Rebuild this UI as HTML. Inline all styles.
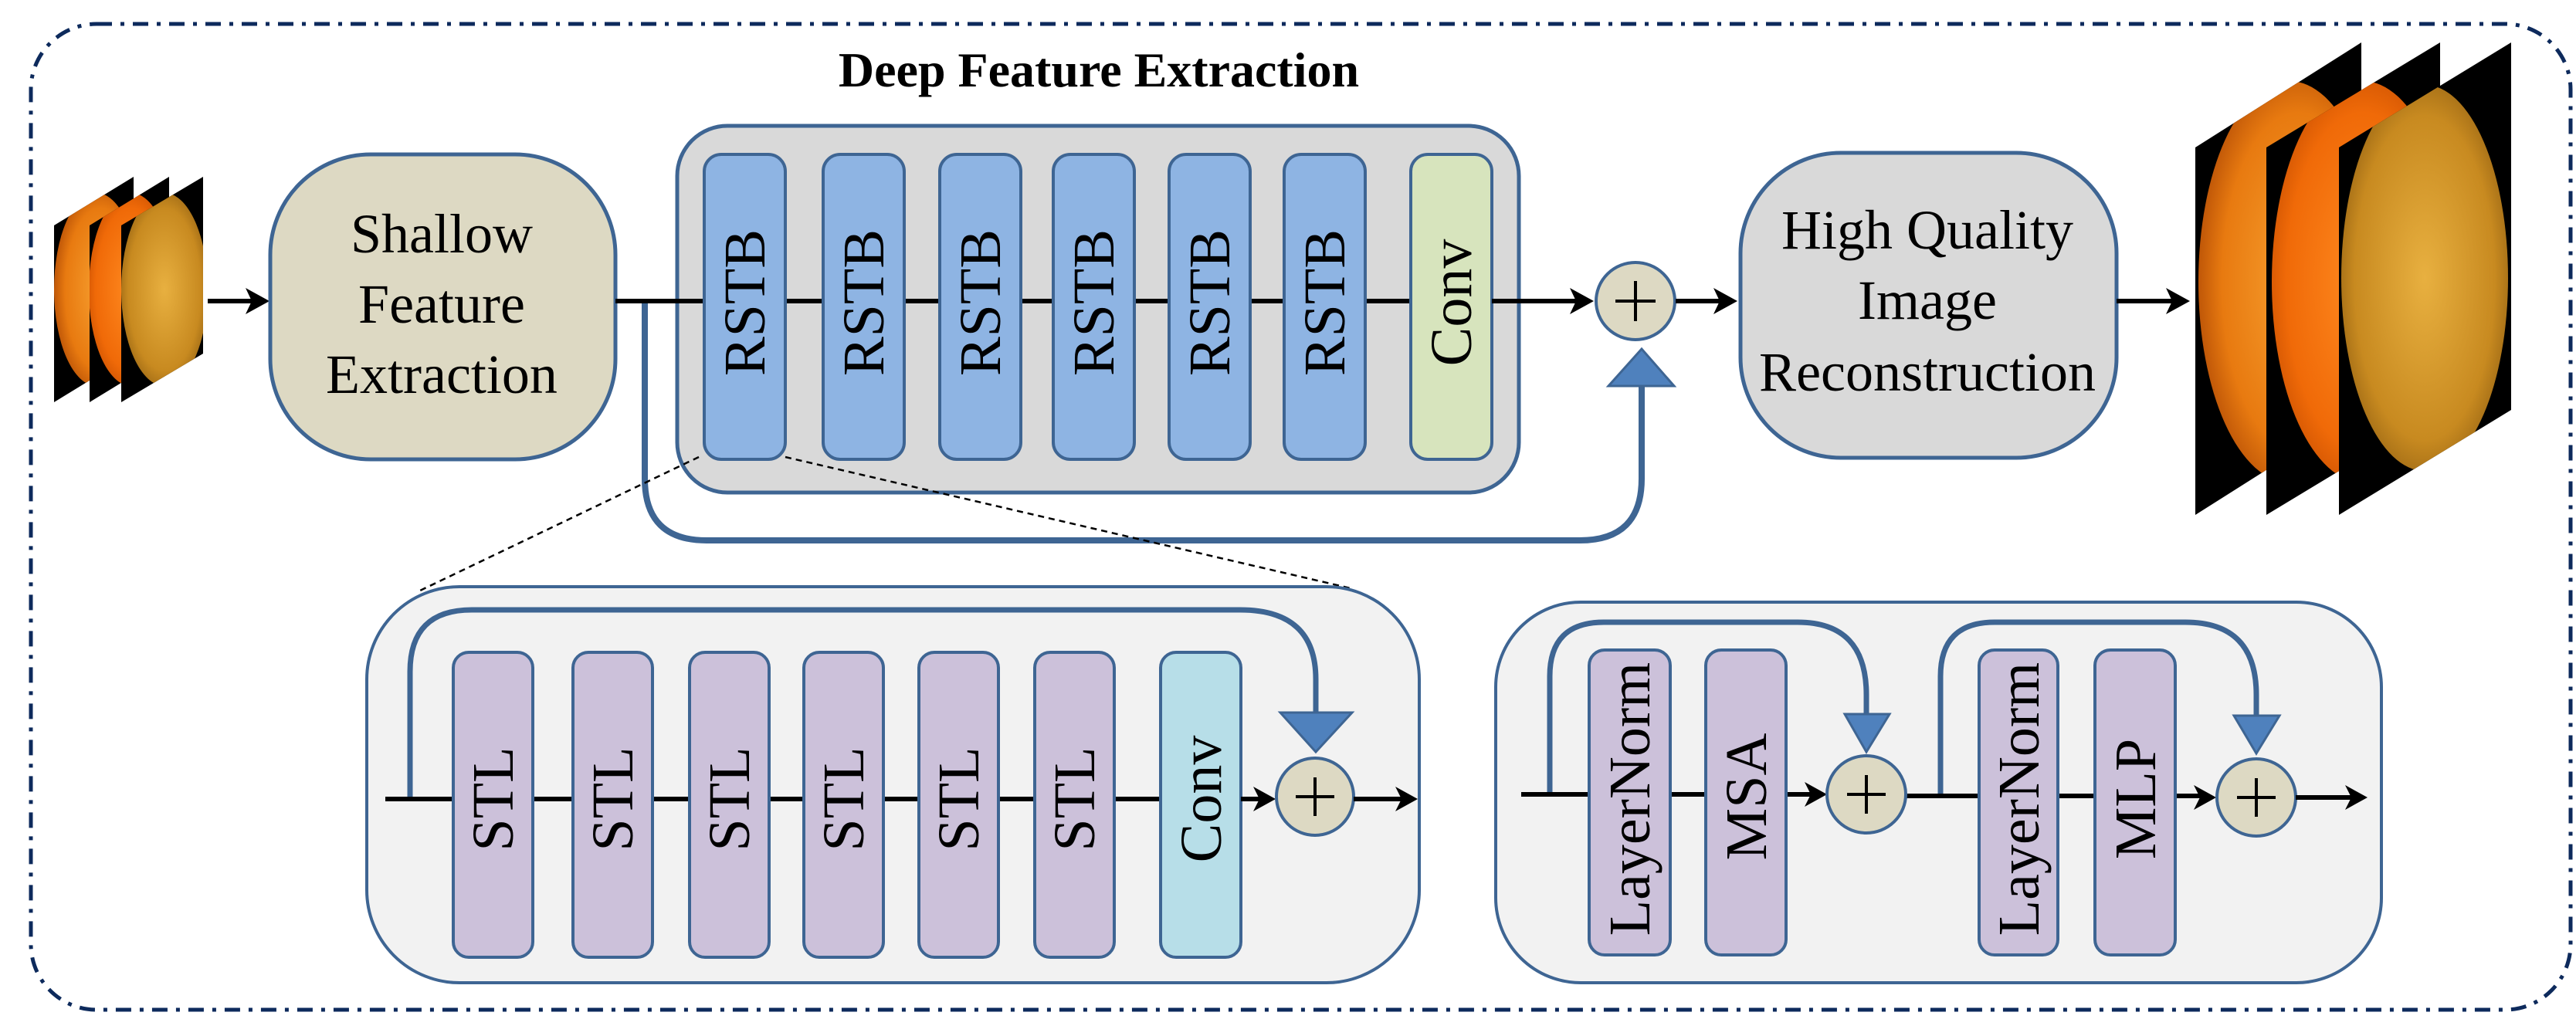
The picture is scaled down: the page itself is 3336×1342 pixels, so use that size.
<!DOCTYPE html>
<html><head><meta charset="utf-8"><style>
html,body{margin:0;padding:0;background:#fff;}
svg{display:block;}
text{font-family:"Liberation Serif",serif;fill:#000;}
</style></head><body>
<svg width="3336" height="1342" viewBox="0 0 3336 1342" xmlns="http://www.w3.org/2000/svg">
<defs>
<radialGradient id="g1" cx="0.55" cy="0.5" r="0.6"><stop offset="0" stop-color="#f7a030"/><stop offset="0.7" stop-color="#e87a10"/><stop offset="1" stop-color="#b04a05"/></radialGradient>
<radialGradient id="g2" cx="0.5" cy="0.5" r="0.6"><stop offset="0" stop-color="#ff8a20"/><stop offset="0.7" stop-color="#f06a08"/><stop offset="1" stop-color="#c04a00"/></radialGradient>
<radialGradient id="g3" cx="0.5" cy="0.5" r="0.6"><stop offset="0" stop-color="#e8b040"/><stop offset="0.7" stop-color="#c88a20"/><stop offset="1" stop-color="#8a5a10"/></radialGradient>
<clipPath id="c1"><polygon points="70,292 173,229 173,458 70,521"/></clipPath>
<clipPath id="c2"><polygon points="116,292 219,229 219,458 116,521"/></clipPath>
<clipPath id="c3"><polygon points="157,292 263,229 263,458 157,521"/></clipPath>
<clipPath id="d1"><polygon points="2843,191 3058,55 3058,531 2843,667"/></clipPath>
<clipPath id="d2"><polygon points="2935,191 3160,55 3160,531 2935,667"/></clipPath>
<clipPath id="d3"><polygon points="3029,191 3252,55 3252,531 3029,667"/></clipPath>
</defs>

<rect x="40" y="31" width="3289" height="1277" rx="85" fill="none" stroke="#0d2a5c" stroke-width="5" stroke-dasharray="20 11 5 11"/>

<text x="1423" y="112" font-size="64" font-weight="bold" text-anchor="middle">Deep Feature Extraction</text>

<g>
<polygon points="70,292 173,229 173,458 70,521" fill="#000"/>
<ellipse cx="125" cy="375" rx="55" ry="125" fill="url(#g1)" clip-path="url(#c1)"/>
<polygon points="116,292 219,229 219,458 116,521" fill="#000"/>
<ellipse cx="170" cy="375" rx="55" ry="125" fill="url(#g2)" clip-path="url(#c2)"/>
<polygon points="157,292 263,229 263,458 157,521" fill="#000"/>
<ellipse cx="213" cy="375" rx="56" ry="125" fill="url(#g3)" clip-path="url(#c3)"/>
</g>
<line x1="269" y1="390" x2="335" y2="390" stroke="#000" stroke-width="6"/>
<polygon points="349,390 318,373 326,390 318,407" fill="#000"/>

<rect x="350" y="200" width="447" height="395" rx="130" fill="#ddd9c3" stroke="#3e6593" stroke-width="5"/>
<text x="572" y="327" font-size="72" text-anchor="middle">Shallow</text>
<text x="572" y="418" font-size="72" text-anchor="middle">Feature</text>
<text x="572" y="509" font-size="72" text-anchor="middle">Extraction</text>

<path d="M835,390 L835,620 Q835,700 915,700 L2046,700 Q2126,700 2126,620 L2126,500" fill="none" stroke="#3e6593" stroke-width="8"/>

<rect x="877" y="163" width="1090" height="475" rx="65" fill="#d9d9d9" stroke="#3e6593" stroke-width="5"/>
<line x1="797" y1="390" x2="1932" y2="390" stroke="#000" stroke-width="6"/>
<g stroke="#3e6593" stroke-width="4">
<rect x="912" y="200" width="105" height="395" rx="22" fill="#8eb4e3"/>
<rect x="1066" y="200" width="105" height="395" rx="22" fill="#8eb4e3"/>
<rect x="1217" y="200" width="105" height="395" rx="22" fill="#8eb4e3"/>
<rect x="1364" y="200" width="105" height="395" rx="22" fill="#8eb4e3"/>
<rect x="1514" y="200" width="105" height="395" rx="22" fill="#8eb4e3"/>
<rect x="1663" y="200" width="105" height="395" rx="22" fill="#8eb4e3"/>
<rect x="1827" y="200" width="105" height="395" rx="22" fill="#d7e4bd"/>
</g>
<g font-size="76" text-anchor="middle">
<text transform="translate(964,392) rotate(-90)" dy="26">RSTB</text>
<text transform="translate(1118,392) rotate(-90)" dy="26">RSTB</text>
<text transform="translate(1269,392) rotate(-90)" dy="26">RSTB</text>
<text transform="translate(1416,392) rotate(-90)" dy="26">RSTB</text>
<text transform="translate(1566,392) rotate(-90)" dy="26">RSTB</text>
<text transform="translate(1715,392) rotate(-90)" dy="26">RSTB</text>
<text transform="translate(1879,392) rotate(-90)" dy="26">Conv</text>
</g>
<line x1="1932" y1="390" x2="2050" y2="390" stroke="#000" stroke-width="6"/>
<polygon points="2064,390 2033,373 2041,390 2033,407" fill="#000"/>
<polygon points="2083,500 2168,500 2126,452" fill="#4f81bd" stroke="#3e6593" stroke-width="3"/>
<ellipse cx="2118" cy="390" rx="51" ry="50" fill="#ddd9c3" stroke="#3e6593" stroke-width="4"/>
<line x1="2092" y1="390" x2="2144" y2="390" stroke="#000" stroke-width="4"/>
<line x1="2118" y1="364" x2="2118" y2="416" stroke="#000" stroke-width="4"/>
<line x1="2170" y1="390" x2="2236" y2="390" stroke="#000" stroke-width="6"/>
<polygon points="2250,390 2219,373 2227,390 2219,407" fill="#000"/>

<rect x="2254" y="198" width="487" height="395" rx="130" fill="#d9d9d9" stroke="#3e6593" stroke-width="5"/>
<text x="2496" y="322" font-size="72" text-anchor="middle">High Quality</text>
<text x="2496" y="413" font-size="72" text-anchor="middle">Image</text>
<text x="2496" y="506" font-size="72" text-anchor="middle">Reconstruction</text>
<line x1="2741" y1="390" x2="2822" y2="390" stroke="#000" stroke-width="6"/>
<polygon points="2836,390 2805,373 2813,390 2805,407" fill="#000"/>

<g>
<polygon points="2843,191 3058,55 3058,531 2843,667" fill="#000"/>
<ellipse cx="2965" cy="365" rx="118" ry="260" fill="url(#g1)" clip-path="url(#d1)"/>
<polygon points="2935,191 3160,55 3160,531 2935,667" fill="#000"/>
<ellipse cx="3060" cy="365" rx="118" ry="260" fill="url(#g2)" clip-path="url(#d2)"/>
<polygon points="3029,191 3252,55 3252,531 3029,667" fill="#000"/>
<ellipse cx="3140" cy="360" rx="108" ry="250" fill="url(#g3)" clip-path="url(#d3)"/>
</g>

<line x1="905" y1="592" x2="544" y2="765" stroke="#000" stroke-width="2.5" stroke-dasharray="8 6"/>
<line x1="1017" y1="592" x2="1749" y2="762" stroke="#000" stroke-width="2.5" stroke-dasharray="8 6"/>

<rect x="475" y="760" width="1363" height="513" rx="120" fill="#f2f2f2" stroke="#3e6593" stroke-width="4"/>
<path d="M531,1035 L531,870 Q531,790 611,790 L1606,790 Q1704,790 1704,880 L1704,923" fill="none" stroke="#3e6593" stroke-width="7"/>
<line x1="499" y1="1035" x2="1607" y2="1035" stroke="#000" stroke-width="6"/>
<g stroke="#3e6593" stroke-width="4">
<rect x="587" y="845" width="103" height="395" rx="20" fill="#ccc1da"/>
<rect x="742" y="845" width="103" height="395" rx="20" fill="#ccc1da"/>
<rect x="893" y="845" width="103" height="395" rx="20" fill="#ccc1da"/>
<rect x="1041" y="845" width="103" height="395" rx="20" fill="#ccc1da"/>
<rect x="1190" y="845" width="103" height="395" rx="20" fill="#ccc1da"/>
<rect x="1340" y="845" width="103" height="395" rx="20" fill="#ccc1da"/>
<rect x="1503" y="845" width="104" height="395" rx="20" fill="#b7dee8"/>
</g>
<g font-size="76" text-anchor="middle">
<text transform="translate(638,1035) rotate(-90)" dy="26">STL</text>
<text transform="translate(793,1035) rotate(-90)" dy="26">STL</text>
<text transform="translate(944,1035) rotate(-90)" dy="26">STL</text>
<text transform="translate(1092,1035) rotate(-90)" dy="26">STL</text>
<text transform="translate(1241,1035) rotate(-90)" dy="26">STL</text>
<text transform="translate(1391,1035) rotate(-90)" dy="26">STL</text>
<text transform="translate(1555,1035) rotate(-90)" dy="26">Conv</text>
</g>
<line x1="1607" y1="1035" x2="1640" y2="1035" stroke="#000" stroke-width="6"/>
<polygon points="1652,1035 1623,1019 1631,1035 1623,1051" fill="#000"/>
<polygon points="1658,923 1751,923 1704,974" fill="#4f81bd" stroke="#3e6593" stroke-width="3"/>
<ellipse cx="1703" cy="1032" rx="50" ry="50" fill="#ddd9c3" stroke="#3e6593" stroke-width="4"/>
<line x1="1678" y1="1032" x2="1728" y2="1032" stroke="#000" stroke-width="4"/>
<line x1="1703" y1="1007" x2="1703" y2="1057" stroke="#000" stroke-width="4"/>
<line x1="1753" y1="1035" x2="1822" y2="1035" stroke="#000" stroke-width="6"/>
<polygon points="1836,1035 1807,1019 1815,1035 1807,1051" fill="#000"/>

<rect x="1937" y="780" width="1147" height="493" rx="110" fill="#f2f2f2" stroke="#3e6593" stroke-width="4"/>
<path d="M2007,1029 L2007,876 Q2007,806 2077,806 L2328,806 Q2417,806 2417,900 L2417,925" fill="none" stroke="#3e6593" stroke-width="7"/>
<path d="M2513,1031 L2513,876 Q2513,806 2583,806 L2830,806 Q2922,806 2922,900 L2922,927" fill="none" stroke="#3e6593" stroke-width="7"/>
<line x1="1970" y1="1029" x2="2352" y2="1029" stroke="#000" stroke-width="6"/>
<line x1="2467" y1="1031" x2="2857" y2="1031" stroke="#000" stroke-width="6"/>
<g stroke="#3e6593" stroke-width="4" fill="#ccc1da">
<rect x="2058" y="842" width="105" height="395" rx="20"/>
<rect x="2209" y="842" width="104" height="395" rx="20"/>
<rect x="2563" y="842" width="102" height="395" rx="20"/>
<rect x="2713" y="842" width="104" height="395" rx="20"/>
</g>
<g font-size="76" text-anchor="middle">
<text transform="translate(2110,1035) rotate(-90)" dy="26">LayerNorm</text>
<text transform="translate(2261,1032) rotate(-90)" dy="26">MSA</text>
<text transform="translate(2614,1035) rotate(-90)" dy="26">LayerNorm</text>
<text transform="translate(2765,1035) rotate(-90)" dy="26">MLP</text>
</g>
<polygon points="2366,1029 2337,1013 2345,1029 2337,1045" fill="#000"/>
<polygon points="2389,925 2447,925 2417,974" fill="#4f81bd" stroke="#3e6593" stroke-width="3"/>
<ellipse cx="2417" cy="1029" rx="51" ry="50" fill="#ddd9c3" stroke="#3e6593" stroke-width="4"/>
<line x1="2392" y1="1029" x2="2442" y2="1029" stroke="#000" stroke-width="4"/>
<line x1="2417" y1="1004" x2="2417" y2="1054" stroke="#000" stroke-width="4"/>
<polygon points="2870,1033 2841,1017 2849,1033 2841,1049" fill="#000"/>
<polygon points="2893,927 2952,927 2922,976" fill="#4f81bd" stroke="#3e6593" stroke-width="3"/>
<ellipse cx="2922" cy="1033" rx="51" ry="50" fill="#ddd9c3" stroke="#3e6593" stroke-width="4"/>
<line x1="2897" y1="1033" x2="2947" y2="1033" stroke="#000" stroke-width="4"/>
<line x1="2922" y1="1008" x2="2922" y2="1058" stroke="#000" stroke-width="4"/>
<line x1="2973" y1="1033" x2="3052" y2="1033" stroke="#000" stroke-width="6"/>
<polygon points="3066,1033 3037,1017 3045,1033 3037,1049" fill="#000"/>
</svg>
</body></html>
